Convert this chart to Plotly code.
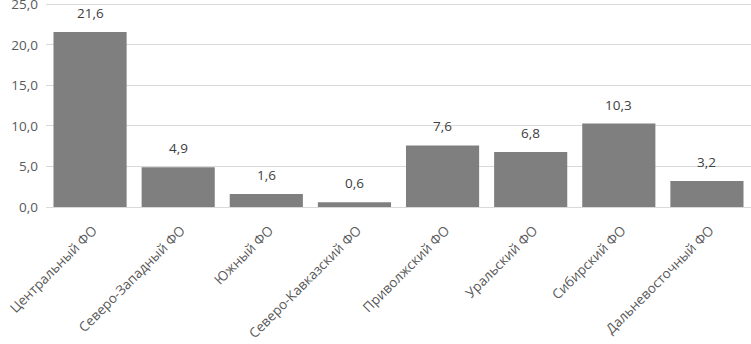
import plotly.graph_objects as go

categories = ["Центральный ФО", "Северо-Западный ФО", "Южный ФО", "Северо-Кавказский ФО",
              "Приволжский ФО", "Уральский ФО", "Сибирский ФО", "Дальневосточный ФО"]
values = [21.6, 4.9, 1.6, 0.6, 7.6, 6.8, 10.3, 3.2]
y_ticks = [0, 5, 10, 15, 20, 25]

font_family = "Open Sans, Liberation Sans, sans-serif"

fig = go.Figure(go.Bar(
    x=categories, y=values,
    marker=dict(color="#7f7f7f", line=dict(width=0)),
    cliponaxis=False,
))

for c, v in zip(categories, values):
    fig.add_annotation(
        x=c, y=v, text=f"{v:.1f}".replace(".", ","), showarrow=False,
        yanchor="bottom", yshift=8,
        font=dict(family=font_family, size=13.5, color="#404040"),
    )

fig.update_layout(
    width=751, height=344,
    margin=dict(l=46, r=0, t=2, b=137),
    plot_bgcolor="white", paper_bgcolor="white",
    separators=", ",
    bargap=0.17,
    showlegend=False,
    font=dict(family=font_family, size=13, color="#595959"),
)
fig.update_yaxes(
    range=[0, 25.3], tickvals=y_ticks, tickformat=".1f",
    showgrid=True, gridcolor="#d9d9d9", gridwidth=1,
    zeroline=True, zerolinecolor="#d9d9d9", zerolinewidth=1,
    showline=False, ticks="", ticklabelstandoff=7, automargin=False,
    ticklabeloverflow="allow",
    tickfont=dict(family=font_family, size=13.5, color="#595959"),
)
fig.update_xaxes(
    tickangle=-45, showline=False, ticks="", automargin=False,
    ticklabelstandoff=12, ticklabelshift=3,
    tickfont=dict(family=font_family, size=13.5, color="#595959"),
)

fig.write_html("out.html", config={"displayModeBar": False},
               post_script="document.body.style.margin='0';document.body.style.overflow='hidden';")
